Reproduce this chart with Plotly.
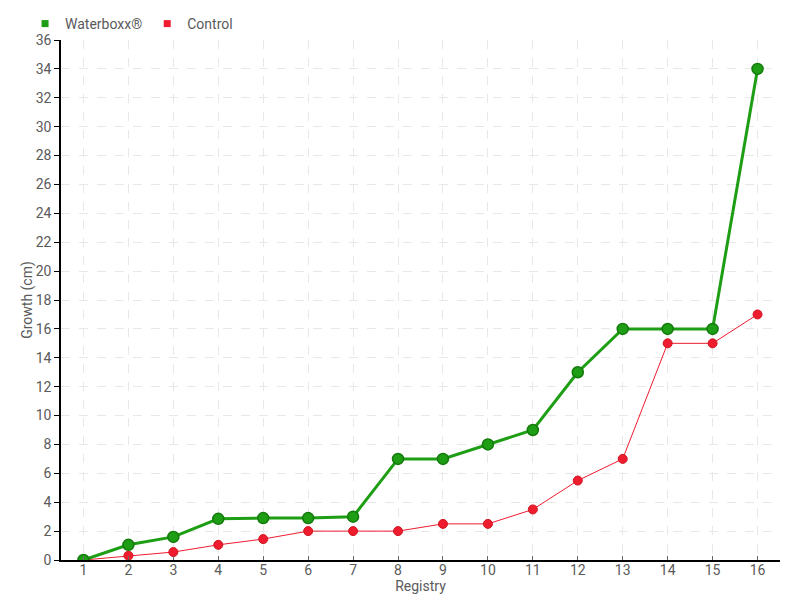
import plotly.graph_objects as go

registry = list(range(1, 17))
waterboxx = [0, 1.05, 1.6, 2.85, 2.9, 2.9, 3, 7, 7, 8, 9, 13, 16, 16, 16, 34]
control = [0, 0.3, 0.55, 1.05, 1.45, 2, 2, 2, 2.5, 2.5, 3.5, 5.5, 7, 15, 15, 17]
y_ticks = list(range(0, 37, 2))

FONT = "Roboto, sans-serif"
GREEN = "#1e9e14"
RED = "#ee1c2e"
TXT = "#5a5a5a"

fig = go.Figure()
fig.add_trace(go.Scatter(
    x=registry, y=control, mode="lines+markers", showlegend=False,
    line=dict(color=RED, width=1),
    marker=dict(color=RED, size=9, line=dict(color="#d0141f", width=1)),
    name="Control"))
fig.add_trace(go.Scatter(
    x=registry, y=waterboxx, mode="lines+markers", showlegend=False,
    line=dict(color=GREEN, width=3),
    marker=dict(color=GREEN, size=11, line=dict(color="#147a0c", width=1.5)),
    name="Waterboxx®"))
fig.add_trace(go.Scatter(x=[None], y=[None], mode="markers", name="Waterboxx®",
                         marker=dict(color=GREEN, symbol="square", size=7)))
fig.add_trace(go.Scatter(x=[None], y=[None], mode="markers", name="Control",
                         marker=dict(color=RED, symbol="square", size=7)))

fig.update_layout(
    width=800, height=600,
    margin=dict(l=53, r=28, t=32, b=48, autoexpand=False),
    plot_bgcolor="white", paper_bgcolor="white",
    font=dict(family=FONT, size=14, color=TXT),
    legend=dict(orientation="h", x=-0.05, xanchor="left", y=1.0, yanchor="bottom",
                font=dict(size=14, color=TXT), itemwidth=30,
                bgcolor="rgba(0,0,0,0)",
                tracegroupgap=0, traceorder="normal", borderwidth=0),
    xaxis=dict(range=[0.5, 16.5], tickmode="array", tickvals=registry,
               ticktext=[str(r) for r in registry],
               showline=True, linecolor="black", linewidth=1.5,
               ticks="inside", ticklen=4, tickcolor="#666666",
               ticklabelstandoff=-4,
               showgrid=True, gridcolor="#e8e8e8", griddash="dash",
               zeroline=False, automargin=False,
               title=dict(text="Registry", standoff=0, font=dict(size=14))),
    yaxis=dict(range=[0, 36], tickmode="array", tickvals=y_ticks,
               showline=True, linecolor="black", linewidth=1.5,
               ticks="outside", ticklen=5, tickcolor="black",
               showgrid=True, gridcolor="#e8e8e8", griddash="dash",
               zeroline=False, automargin=False,
               title=dict(text="Growth (cm)", standoff=0, font=dict(size=14))),
)

fig.write_html("out.html")
